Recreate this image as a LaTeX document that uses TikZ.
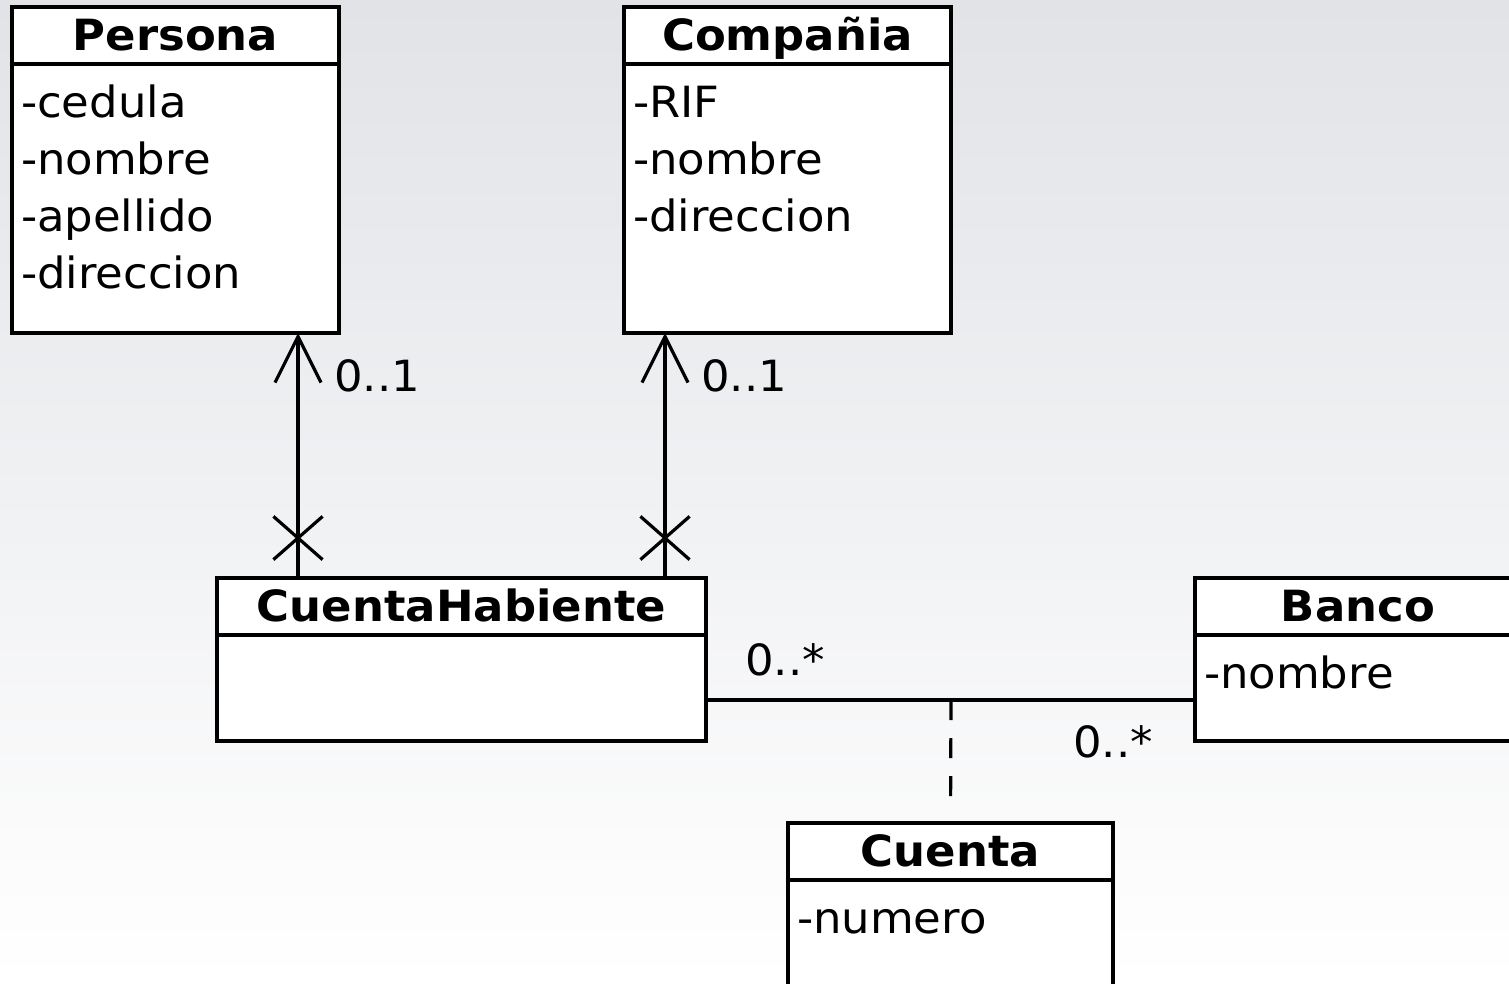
\documentclass[tikz,border=0pt]{standalone}
\usepackage{fontspec}
\setmainfont[FakeStretch=1.045]{DejaVu Sans}
\usepackage{tikz}
\usetikzlibrary{arrows.meta,positioning,shapes.misc}

\definecolor{bgtop}{RGB}{225,227,231}

\begin{document}
\begin{tikzpicture}[
  x=1pt,y=-1pt,
  box/.style={draw,fill=white,line width=3.2pt,outer sep=0pt},
  ttl/.style={box,inner sep=0pt,anchor=north west,text height=43pt,text depth=14pt,
              font=\fontsize{43}{57}\selectfont\bfseries},
  att/.style={box,inner xsep=9pt,inner ysep=0pt,align=left,text height=53pt,
              font=\fontsize{43}{57}\selectfont},
  mult/.style={inner sep=0pt,anchor=base west,font=\fontsize{43}{57}\selectfont},
  nav/.style={line width=3.2pt,-{Straight Barb[length=46pt,width=46pt,line width=3.2pt]}},
  xmark/.style={draw,cross out,line width=3.2pt,minimum width=46pt,minimum height=40pt,inner sep=0pt},
  link/.style={line width=3.2pt},
  linkcls/.style={line width=3.2pt,dash pattern=on 20pt off 18pt,shorten >=25pt}
]
  \path[use as bounding box,clip] (0,0) rectangle (1509,983);
  \shade[top color=bgtop,bottom color=white] (0,0) rectangle (1509,983);

  % classes
  \node[ttl,minimum width=327pt] (persona) at (12,7) {Persona};
  \node[att,text width=309pt,text depth=216pt,below=0pt of persona] (persona-b)
    {-cedula\\-nombre\\-apellido\\-direccion};
  \node[ttl,minimum width=327pt] (compania) at (624,7) {Compañia};
  \node[att,text width=309pt,text depth=216pt,below=0pt of compania] (compania-b)
    {-RIF\\-nombre\\-direccion};
  \node[ttl,minimum width=489pt] (ch) at (217,578) {CuentaHabiente};
  \node[att,text width=471pt,text depth=53pt,below=0pt of ch] (ch-b) {};
  \node[ttl,minimum width=326pt] (banco) at (1195,578) {Banco};
  \node[att,text width=308pt,text depth=53pt,below=0pt of banco] (banco-b) {-nombre};
  \node[ttl,minimum width=325pt] (cuenta) at (788,823) {Cuenta};
  \node[att,text width=307pt,text depth=60pt,below=0pt of cuenta] (cuenta-b) {-numero};

  % navigable ends
  \coordinate (ch-p) at ([xshift=81pt]ch.north west);
  \coordinate (ch-c) at ([xshift=448pt]ch.north west);
  \draw[nav] (ch-p) -- (ch-p |- persona-b.south);
  \draw[nav] (ch-c) -- (ch-c |- compania-b.south);
  \node[xmark] (x-p) at ([yshift=40pt]ch-p) {};
  \node[xmark] (x-c) at ([yshift=40pt]ch-c) {};
  \node[mult] (m-p) at (334,391) {0..1};
  \node[mult] (m-c) at (701,391) {0..1};

  % association + class
  \coordinate (mid) at (951,700);
  \draw[link] (ch-b.east |- mid) -- (banco-b.west |- mid);
  \draw[linkcls] (mid) -- (cuenta.north);
  \node[mult] (m-ch) at (745,675) {0..*};
  \node[mult] (m-b) at (1073,757) {0..*};
\end{tikzpicture}
\end{document}
